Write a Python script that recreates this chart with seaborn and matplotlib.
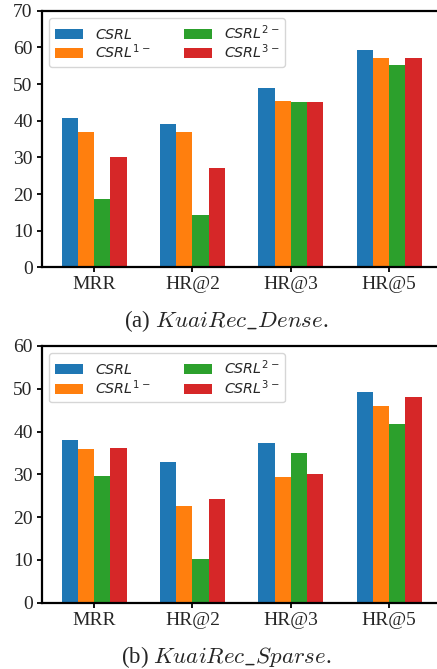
import pandas as pd
import matplotlib
matplotlib.use("Agg")
import matplotlib.pyplot as plt
import seaborn as sns

sns.set_style("ticks")
plt.rcParams["font.family"] = ["Liberation Serif", "DejaVu Serif"]
plt.rcParams["mathtext.fontset"] = "dejavusans"

metrics = ["MRR", "HR@2", "HR@3", "HR@5"]
models = [r"$\it{CSRL}$", r"$\it{CSRL}^{1-}$", r"$\it{CSRL}^{2-}$", r"$\it{CSRL}^{3-}$"]
colors = ["#1f77b4", "#ff7f0e", "#2ca02c", "#d62728"]

dense_csrl = [40.7, 39.1, 48.9, 59.3]
dense_csrl1 = [36.9, 36.9, 45.5, 57.1]
dense_csrl2 = [18.6, 14.3, 45.1, 55.2]
dense_csrl3 = [30.1, 27.1, 45.1, 57.1]

sparse_csrl = [38.0, 32.9, 37.3, 49.2]
sparse_csrl1 = [35.9, 22.6, 29.4, 45.9]
sparse_csrl2 = [29.6, 10.3, 35.0, 41.7]
sparse_csrl3 = [36.1, 24.2, 30.1, 48.0]


def to_long(series):
    rows = []
    for name, vals in zip(models, series):
        for m, v in zip(metrics, vals):
            rows.append({"metric": m, "model": name, "value": v})
    return pd.DataFrame(rows)


panels = [
    (to_long([dense_csrl, dense_csrl1, dense_csrl2, dense_csrl3]), 70, r"(a) $KuaiRec\_Dense$."),
    (to_long([sparse_csrl, sparse_csrl1, sparse_csrl2, sparse_csrl3]), 60, r"(b) $KuaiRec\_Sparse$."),
]

fig = plt.figure(figsize=(4.37, 6.69), dpi=100)
# axes run past the right edge of the figure, so the right spine is cut off
ax_boxes = [[0.0954, 0.6004, 0.957, 0.3836], [0.0954, 0.0990, 0.957, 0.3840]]
cap_y = [0.5117, 0.0094]

for (df, ymax, caption), box, cy in zip(panels, ax_boxes, cap_y):
    ax = fig.add_axes(box)
    sns.barplot(data=df, x="metric", y="value", hue="model", palette=colors,
                width=0.661, gap=0, saturation=1, linewidth=0, ax=ax, errorbar=None)
    ax.set_xlim(-0.534, 3.72)
    ax.set_ylim(0, ymax)
    ax.set_yticks(range(0, ymax + 1, 10))
    ax.set_xlabel(""); ax.set_ylabel("")
    ax.tick_params(labelsize=14, width=1.3, length=3.5, color="black", pad=3)
    for s in ax.spines.values():
        s.set_linewidth(1.6); s.set_color("black"); s.set_visible(True)
    ax.legend(ncol=2, loc="upper left", title=None, labelspacing=0.05,
              columnspacing=2.35, prop={"family": "DejaVu Sans", "size": 10.3})
    fig.text(0.518, cy, caption, ha="center", va="baseline", fontsize=16.5,
             math_fontfamily="cm")

fig.savefig("out.png", dpi=100)
